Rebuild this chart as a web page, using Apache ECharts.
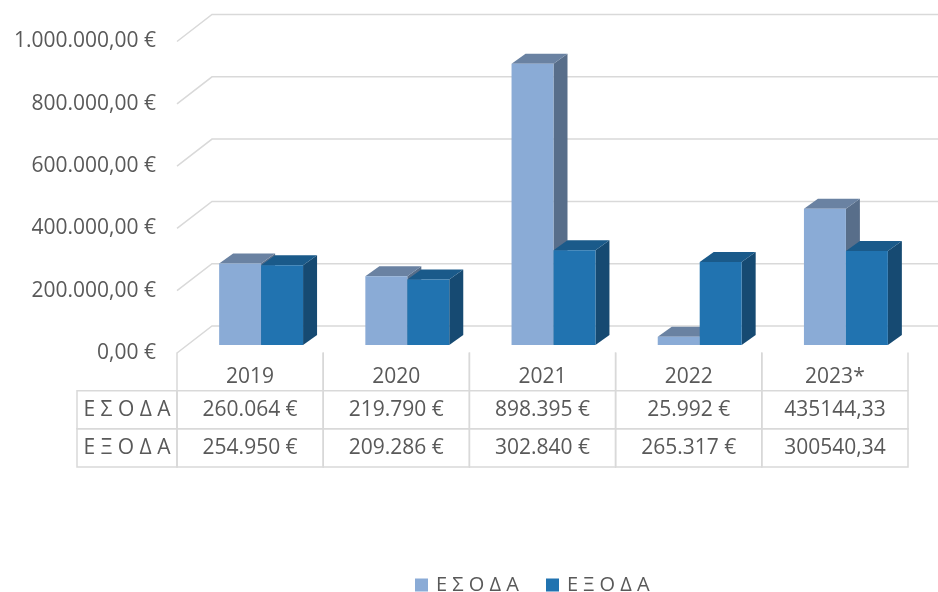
<!DOCTYPE html>
<html>
<head>
<meta charset="utf-8">
<script src="https://cdn.jsdelivr.net/npm/echarts@6/dist/echarts.min.js"></script>
<style>
  html, body { margin: 0; padding: 0; background: #fff; }
  #chart { width: 938px; height: 592px; }
</style>
</head>
<body>
<div id="chart"></div>
<script>
// data
var years = ["2019", "2020", "2021", "2022", "2023*"];
var seriesNames = ["Ε Σ Ο Δ Α", "Ε Ξ Ο Δ Α"];
var esoda = [260064, 219790, 898395, 25992, 435144.33];
var exoda = [254950, 209286, 302840, 265317, 300540.34];
var esodaText = ["260.064 €", "219.790 €", "898.395 €", "25.992 €", "435144,33"];
var exodaText = ["254.950 €", "209.286 €", "302.840 €", "265.317 €", "300540,34"];
var yTicks = [0, 200000, 400000, 600000, 800000, 1000000];

(function () {
  var myChart = echarts.init(document.getElementById("chart"), null, {
    renderer: "canvas",
  });

  var FONT = "'Open Sans', 'Noto Sans', sans-serif";
  var TEXT = "#595959";
  var LINE = "#D9D9D9";
  // 3d depth offset
  var DX = 14, DY = -10;
  var WALL_DX = 35, WALL_DY = -27;

  var faces = [
    { front: "#8AABD6", top: "#6A82A2", side: "#586E8A" },
    { front: "#2173B0", top: "#1A5A8A", side: "#164A72" },
  ];

  function fmtEuro(v) {
    var s = String(v).replace(/\B(?=(\d{3})+(?!\d))/g, ".");
    return s + ",00 €";
  }

  // 3d-ish bar
  function barRenderer(idx) {
    return function (params, api) {
      var cat = api.value(0);
      var val = api.value(1);
      var base = api.coord([cat, 0]);
      var top = api.coord([cat, val]);
      var band = api.size([1, 0])[0];
      var w = band * 0.287;
      var x0 = idx === 0 ? base[0] - w : base[0];
      var yb = base[1], yt = top[1];
      var f = faces[idx];
      return {
        type: "group",
        children: [
          {
            type: "polygon",
            shape: { points: [[x0 + w, yt], [x0 + w + DX, yt + DY], [x0 + w + DX, yb + DY], [x0 + w, yb]] },
            style: { fill: f.side },
          },
          {
            type: "polygon",
            shape: { points: [[x0, yt], [x0 + w, yt], [x0 + w + DX, yt + DY], [x0 + DX, yt + DY]] },
            style: { fill: f.top },
          },
          {
            type: "rect",
            shape: { x: x0, y: yt, width: w, height: yb - yt },
            style: { fill: f.front },
          },
        ],
      };
    };
  }

  // wall grid lines: front edge to back, then across the back wall
  function wallRenderer(params, api) {
    var p = api.coord([0, api.value(1)]);
    return {
      type: "polyline",
      shape: {
        points: [
          [p[0], p[1]],
          [p[0] + WALL_DX, p[1] + WALL_DY],
          [api.getWidth(), p[1] + WALL_DY],
        ],
      },
      style: { stroke: LINE, lineWidth: 1.5, fill: null },
    };
  }

  // data table cells
  var rowNames = ["", seriesNames[0], seriesNames[1]];
  var rowTexts = [years, esodaText, exodaText];
  function tableRenderer(params, api) {
    var col = api.value(0);
    var row = api.value(1);
    var kind = api.value(2);
    var c = api.coord([col, row]);
    var size = api.size([1, 1]);
    var cw = size[0], ch = size[1];
    var x = c[0] - cw / 2, y = c[1] - ch / 2, w = cw;
    var text = rowTexts[row][col];
    if (kind === 1) {
      w = 100;
      x = x - w;
      text = rowNames[row];
    }
    var border;
    if (row === 0) {
      border = {
        type: "group",
        children: [
          { type: "line", shape: { x1: x, y1: y, x2: x, y2: y + ch }, style: { stroke: LINE, lineWidth: 1.5 } },
          { type: "line", shape: { x1: x + w, y1: y, x2: x + w, y2: y + ch }, style: { stroke: LINE, lineWidth: 1.5 } },
        ],
      };
    } else {
      border = {
        type: "rect",
        shape: { x: x, y: y, width: w, height: ch },
        style: { fill: null, stroke: LINE, lineWidth: 1.5 },
      };
    }
    return {
      type: "group",
      children: [
        border,
        {
          type: "text",
          style: {
            text: text,
            x: x + w / 2,
            y: c[1] + (row === 0 ? 5 : 0),
            align: "center",
            verticalAlign: "middle",
            fontSize: 21,
            fontFamily: FONT,
            fill: TEXT,
          },
        },
      ],
    };
  }

  var tableData = [];
  for (var r = 0; r < 3; r++) {
    for (var c = 0; c < years.length; c++) tableData.push([c, r, 0]);
    if (r > 0) tableData.push([0, r, 1]);
  }

  var option = {
    animation: false,
    legend: {
      data: seriesNames,
      left: 410,
      top: 570,
      icon: "rect",
      itemWidth: 13,
      itemHeight: 13,
      itemGap: 27,
      textStyle: { color: TEXT, fontSize: 20, fontFamily: FONT, padding: [0, 0, 0, 3] },
    },
    grid: [
      // front wall edge (axis labels)
      { left: 177, top: 41.5, bottom: 239, width: 1 },
      // bars
      { left: 188, right: 19, top: 32, bottom: 247 },
      // table
      { left: 177, top: 352.5, width: 731, height: 114.5 },
    ],
    xAxis: [
      { gridIndex: 0, type: "value", min: 0, max: 1, show: false },
      { gridIndex: 1, type: "category", data: years, show: false },
      { gridIndex: 2, type: "category", data: years, show: false },
    ],
    yAxis: [
      {
        gridIndex: 0,
        type: "value",
        min: 0,
        max: 1000000,
        interval: 200000,
        axisLine: { show: false },
        axisTick: { show: false },
        splitLine: { show: false },
        axisLabel: {
          margin: 21,
          color: TEXT,
          fontSize: 21,
          fontFamily: FONT,
          formatter: fmtEuro,
        },
      },
      { gridIndex: 1, type: "value", min: 0, max: 1000000, show: false },
      { gridIndex: 2, type: "category", data: rowNames, inverse: true, show: false },
    ],
    series: [
      {
        type: "custom",
        xAxisIndex: 0,
        yAxisIndex: 0,
        renderItem: wallRenderer,
        data: yTicks.map(function (v) { return [0, v]; }),
        silent: true,
        z: 1,
      },
      {
        name: seriesNames[0],
        type: "custom",
        xAxisIndex: 1,
        yAxisIndex: 1,
        renderItem: barRenderer(0),
        itemStyle: { color: faces[0].front },
        data: esoda.map(function (v, i) { return [i, v]; }),
        z: 2,
      },
      {
        name: seriesNames[1],
        type: "custom",
        xAxisIndex: 1,
        yAxisIndex: 1,
        renderItem: barRenderer(1),
        itemStyle: { color: faces[1].front },
        data: exoda.map(function (v, i) { return [i, v]; }),
        z: 3,
      },
      {
        type: "custom",
        xAxisIndex: 2,
        yAxisIndex: 2,
        renderItem: tableRenderer,
        data: tableData,
        silent: true,
        z: 4,
      },
    ],
  };

  myChart.setOption(option);
  window.addEventListener("resize", function () {
    myChart.resize();
  });
})();
</script>
</body>
</html>
